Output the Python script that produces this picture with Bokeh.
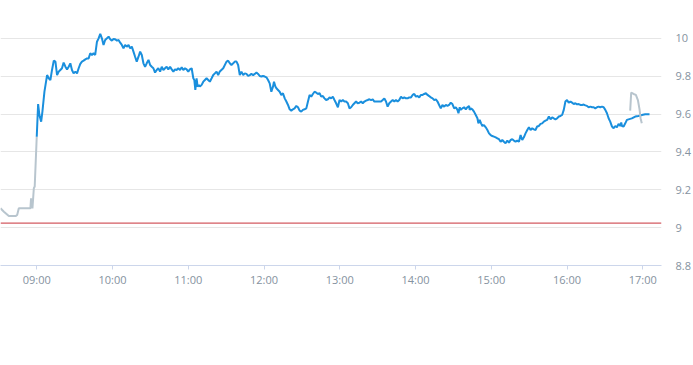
from bokeh.plotting import figure
from bokeh.models import FixedTicker, Span, Range1d, LinearAxis
from bokeh.embed import file_html
from bokeh.resources import INLINE

# minutes after 09:00 and price
pre_minutes = [-28.7, -26.0, -22.1, -16.8, -15.5, -14.2, -5.0, -4.5, -3.4, -2.3, -1.6, 0.0]
pre_price = [9.102, 9.084, 9.061, 9.061, 9.067, 9.102, 9.102, 9.155, 9.102, 9.208, 9.217, 9.480]

day_minutes = [
    0.0, 1.1, 2.1, 3.5, 4.5, 6.1, 8.2, 9.5, 10.8, 12.1, 13.5, 14.8, 16.1, 17.4, 18.7, 20.0,
    21.3, 22.7, 24.0, 25.3, 26.6, 27.9, 29.2, 30.6, 31.9, 33.2, 34.5, 35.8, 37.1, 38.5, 39.8,
    41.1, 42.4, 43.7, 45.0, 46.3, 47.7, 49.0, 50.3, 51.6, 52.9, 54.2, 55.6, 56.9, 58.2, 59.5,
    60.8, 62.1, 63.5, 64.8, 66.1, 67.4, 68.7, 70.0, 71.3, 72.7, 74.0, 75.3, 76.6, 77.9, 79.2,
    80.6, 81.9, 83.2, 84.5, 85.8, 87.1, 88.5, 89.8, 91.1, 92.4, 93.7, 95.0, 96.3, 97.7, 99.0,
    100.3, 101.6, 102.9, 104.2, 105.6, 106.9, 108.2, 109.5, 110.8, 112.1, 113.5, 114.8, 116.1,
    117.4, 118.7, 120.0, 121.3, 122.7, 124.0, 124.8, 125.6, 126.6, 127.4, 128.5, 129.2, 130.6,
    131.9, 133.2, 134.5, 135.8, 137.1, 138.5, 139.8, 141.1, 142.4, 143.7,
    145.0, 147.7, 150.3, 151.6, 152.9, 154.2, 155.6, 156.9, 158.2, 159.5, 160.8, 162.1, 163.5,
    164.8, 166.1, 167.4, 168.7, 170.0, 171.4, 172.7, 174.0, 175.3, 176.6, 177.9, 179.2, 180.6,
    181.9, 183.2, 184.5, 185.8, 187.1, 187.9, 189.0, 189.8, 191.1, 192.4, 193.7, 195.0, 196.4,
    197.7, 199.0, 200.3, 201.6, 202.9, 204.2, 205.6, 206.9, 208.2, 209.5, 210.8, 212.1, 213.5,
    214.8, 216.1, 217.4, 218.7, 220.0, 221.4, 222.7, 224.0, 225.3, 226.6, 227.9, 229.2, 230.6,
    231.9, 233.2, 234.5, 235.8, 237.1, 238.5, 239.8, 241.1, 242.4, 243.7, 245.0, 246.4, 247.7,
    249.0, 250.3, 251.6, 252.9, 254.2, 255.6, 256.9, 258.2, 259.5, 260.8, 262.1, 263.5, 264.8,
    266.1, 267.4, 268.7, 270.0, 271.4, 272.7, 274.0, 275.3, 276.6, 277.9, 279.2, 280.6, 281.9,
    283.2, 284.5, 285.8, 287.1, 288.5, 289.8, 291.1, 292.4, 293.7, 295.0, 296.4, 297.7, 299.0,
    300.3, 301.6, 302.9, 304.2, 305.6, 306.9, 308.2, 309.5, 310.8, 312.1, 313.5, 314.8, 316.1,
    317.4,
    318.7, 320.0, 321.3, 322.7, 324.0, 325.3, 326.6, 327.9, 329.2, 330.6, 331.9, 333.2, 334.0,
    335.0, 335.8, 337.1, 338.5, 339.8, 341.1, 342.4, 342.9, 343.7, 345.0, 346.3, 347.7, 349.0,
    349.8, 350.8, 351.9, 352.9, 354.2, 355.6, 356.9, 358.2, 359.5, 360.8, 362.1, 363.5, 364.8,
    366.1, 367.4, 368.7, 370.0, 371.3, 372.7, 374.0, 375.3, 376.6, 377.9, 379.2, 380.6, 381.9,
    383.2, 384.5, 385.8, 387.1, 388.5, 389.8, 391.1, 392.4, 393.7, 395.0, 396.3, 397.7, 399.0,
    400.3, 401.6, 402.9, 404.2, 405.6, 406.9, 408.2, 409.5, 410.8, 412.1, 413.5, 414.8, 416.1,
    417.4, 418.7, 420.0, 421.3, 422.7, 424.0, 425.3, 426.6, 427.9, 429.2, 430.6, 431.9, 433.2,
    434.5, 435.8, 437.1, 438.5, 439.8, 441.1, 442.4, 443.7, 445.0, 446.3, 447.7, 449.0, 450.3,
    451.6, 452.9, 454.2, 455.6, 456.9, 458.2, 459.5, 460.8, 462.1, 462.9, 463.5, 464.8, 466.1,
    467.4, 468.7, 471.3, 474.0, 476.6, 479.2, 481.9, 485.3,
]
day_price = [
    9.480, 9.653, 9.595, 9.560, 9.613, 9.718, 9.806, 9.789, 9.780, 9.833, 9.882, 9.877, 9.806,
    9.824, 9.833, 9.842, 9.872, 9.850, 9.836, 9.850, 9.868, 9.833, 9.815, 9.824, 9.815, 9.842,
    9.865, 9.877, 9.882, 9.889, 9.894, 9.894, 9.921, 9.912, 9.921, 9.912, 9.982, 10.000, 10.023,
    10.000, 9.965, 9.991, 10.000, 10.009, 9.995, 9.988, 9.996, 9.995, 9.988, 9.991, 9.977, 9.965,
    9.947, 9.965, 9.956, 9.965, 9.947, 9.956, 9.930, 9.903, 9.877, 9.903, 9.930, 9.912, 9.868,
    9.850, 9.868, 9.886, 9.859, 9.850, 9.842, 9.819, 9.833, 9.842, 9.824, 9.850, 9.833, 9.842,
    9.850, 9.836, 9.850, 9.836, 9.824, 9.836, 9.833, 9.842, 9.833, 9.847, 9.833, 9.842, 9.836,
    9.824, 9.836, 9.842, 9.789, 9.780, 9.727, 9.789, 9.745, 9.754, 9.745, 9.754, 9.771, 9.780,
    9.789, 9.780, 9.771, 9.789, 9.806, 9.815, 9.824, 9.806,
    9.825, 9.842, 9.877, 9.882, 9.868, 9.859, 9.868, 9.877, 9.877, 9.859, 9.806, 9.824, 9.806,
    9.815, 9.812, 9.801, 9.806, 9.812, 9.806, 9.812, 9.819, 9.812, 9.801, 9.798, 9.801, 9.798,
    9.794, 9.780, 9.762, 9.718, 9.745, 9.771, 9.745, 9.736, 9.727, 9.718, 9.701, 9.710, 9.683,
    9.666, 9.648, 9.625, 9.618, 9.625, 9.630, 9.643, 9.636, 9.618, 9.613, 9.622, 9.625, 9.630,
    9.666, 9.701, 9.692, 9.706, 9.718, 9.713, 9.706, 9.710, 9.692, 9.695, 9.683, 9.674, 9.678,
    9.688, 9.683, 9.692, 9.674, 9.657, 9.636, 9.674, 9.666, 9.674, 9.666, 9.666, 9.657, 9.630,
    9.636, 9.648, 9.657, 9.666, 9.657, 9.660, 9.666, 9.657, 9.666, 9.671, 9.674, 9.678, 9.674,
    9.678, 9.666, 9.666, 9.666, 9.666, 9.666, 9.674, 9.683, 9.666, 9.639, 9.657, 9.666, 9.674,
    9.666, 9.674, 9.666, 9.674, 9.692, 9.683, 9.688, 9.683, 9.683, 9.688, 9.688, 9.701, 9.706,
    9.692, 9.695, 9.688, 9.701, 9.701, 9.706, 9.710, 9.701, 9.695, 9.688, 9.683, 9.674, 9.678,
    9.666,
    9.648, 9.630, 9.648, 9.639, 9.648, 9.643, 9.648, 9.660, 9.653, 9.630, 9.636, 9.622, 9.604,
    9.636, 9.622, 9.630, 9.636, 9.625, 9.636, 9.643, 9.622, 9.630, 9.625, 9.613, 9.595, 9.578,
    9.551, 9.569, 9.551, 9.537, 9.542, 9.530, 9.516, 9.498, 9.489, 9.484, 9.481, 9.477, 9.472,
    9.467, 9.454, 9.463, 9.454, 9.446, 9.460, 9.449, 9.463, 9.467, 9.460, 9.454, 9.460, 9.454,
    9.489, 9.463, 9.477, 9.498, 9.516, 9.530, 9.516, 9.525, 9.519, 9.516, 9.534, 9.537, 9.548,
    9.551, 9.560, 9.565, 9.569, 9.587, 9.572, 9.583, 9.577, 9.572, 9.577, 9.587, 9.590, 9.595,
    9.622, 9.666, 9.674, 9.660, 9.666, 9.660, 9.653, 9.657, 9.651, 9.653, 9.648, 9.648, 9.650,
    9.646, 9.643, 9.636, 9.639, 9.636, 9.636, 9.630, 9.636, 9.639, 9.636, 9.639, 9.636, 9.622,
    9.604, 9.578, 9.560, 9.534, 9.525, 9.537, 9.530, 9.548, 9.537, 9.555, 9.537, 9.534, 9.551,
    9.569, 9.572, 9.577, 9.587, 9.590, 9.595, 9.599, 9.599,
]

post_minutes = [470.0, 470.8, 472.7, 474.5, 476.1, 477.4, 478.2, 479.2]
post_price = [9.618, 9.713, 9.706, 9.701, 9.674, 9.625, 9.578, 9.551]

prev_close = 9.024

x_tick_minutes = [0, 60, 120, 180, 240, 300, 360, 420, 480]
x_tick_labels = ["09:00", "10:00", "11:00", "12:00", "13:00", "14:00", "15:00", "16:00", "17:00"]
y_ticks = [8.8, 9.0, 9.2, 9.4, 9.6, 9.8, 10.0]
y_tick_labels = ["8.8", "9", "9.2", "9.4", "9.6", "9.8", "10"]

LABEL_COLOR = "#8592a0"
FONT = "Open Sans"

p = figure(width=693, height=365, output_backend="svg", toolbar_location=None,
           x_range=Range1d(-28.7, 494.8), y_range=Range1d(8.8, 10.147),
           min_border_left=0, min_border_right=30, min_border_top=10, min_border_bottom=100)
p.outline_line_color = None
p.background_fill_color = "white"
p.border_fill_color = "white"

p.yaxis.visible = False
p.xgrid.grid_line_color = None
p.ygrid.ticker = FixedTicker(ticks=y_ticks)
p.ygrid.grid_line_color = "#e6e6e6"
p.ygrid.grid_line_width = 1

xa = p.xaxis[0]
xa.ticker = FixedTicker(ticks=x_tick_minutes)
xa.major_label_overrides = {t: l for t, l in zip(x_tick_minutes, x_tick_labels)}
xa.axis_line_color = "#ccd6eb"
xa.major_tick_line_color = "#ccd6eb"
xa.major_tick_out = 4
xa.major_tick_in = 0
xa.minor_tick_line_color = None
xa.major_label_text_color = LABEL_COLOR
xa.major_label_text_font = FONT
xa.major_label_text_font_size = "11px"
xa.major_label_standoff = 2

ya = LinearAxis(ticker=FixedTicker(ticks=y_ticks),
                major_label_overrides={t: l for t, l in zip(y_ticks, y_tick_labels)})
ya.axis_line_color = None
ya.major_tick_line_color = None
ya.minor_tick_line_color = None
ya.major_tick_out = 0
ya.major_tick_in = 0
ya.major_label_standoff = 14
ya.major_label_text_color = LABEL_COLOR
ya.major_label_text_font = FONT
ya.major_label_text_font_size = "11px"
p.add_layout(ya, "right")

p.add_layout(Span(location=prev_close, dimension="width", line_color="#c8323a", line_width=1))

p.line(pre_minutes, pre_price, line_color="#b8c5ce", line_width=2)
p.line(day_minutes, day_price, line_color="#1a8fdd", line_width=2)
p.line(post_minutes, post_price, line_color="#b8c5ce", line_width=2)

open("out.html", "w").write(file_html(p, INLINE))
